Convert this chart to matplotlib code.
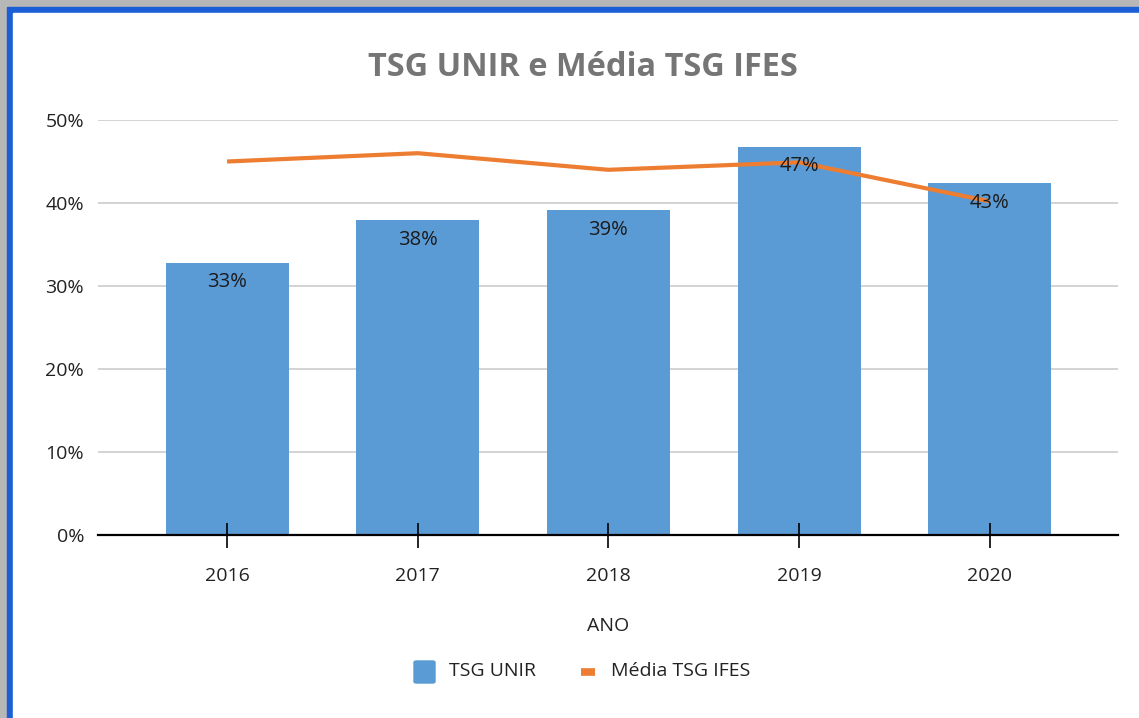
import matplotlib
matplotlib.use("Agg")
import matplotlib.pyplot as plt
from matplotlib.patches import Rectangle, FancyBboxPatch
from matplotlib.lines import Line2D
from matplotlib.ticker import FuncFormatter

anos = ["2016", "2017", "2018", "2019", "2020"]
tsg_unir = [0.328, 0.379, 0.391, 0.468, 0.424]
tsg_unir_labels = ["33%", "38%", "39%", "47%", "43%"]
media_ifes = [0.450, 0.460, 0.440, 0.449, 0.402]
yticks = [0.0, 0.1, 0.2, 0.3, 0.4, 0.5]

W, H = 1139, 718
fig = plt.figure(figsize=(W / 100, H / 100), dpi=100)
plt.rcParams['font.family'] = ['Open Sans', 'DejaVu Sans']

# gray screen background and blue frame
fig.patches.append(Rectangle((0, 0), 1, 1, transform=fig.transFigure, color="#b7b7b7", zorder=-10))
fig.patches.append(Rectangle((7 / W, -0.1), 1.2, (H - 7) / H + 0.1, transform=fig.transFigure,
                             color="#1a5fd6", zorder=-9))
fig.patches.append(Rectangle((13 / W, -0.1), 1.2, (H - 13) / H + 0.1, transform=fig.transFigure,
                             color="white", zorder=-8))

ax = fig.add_axes([98 / W, 1 - 535 / H, (1118 - 98) / W, (535 - 120) / H])
ax.set_facecolor("none")
x = list(range(len(anos)))
bar_w = 0.645
ax.hlines(yticks[1:], -0.677, 4.673, color="#d0d0d0", lw=1.3, zorder=0)
ax.bar(x, tsg_unir, width=bar_w, color="#5b9bd5", zorder=2)
ax.plot(x, media_ifes, color="#ed7d31", lw=3.0, zorder=3, solid_capstyle="butt")

for xi, v, lab in zip(x, tsg_unir, tsg_unir_labels):
    ax.annotate(lab, (xi, v), xytext=(0, -14), textcoords="offset points",
                ha="center", va="center", fontsize=14.5, color="#1b1b1b", zorder=4)

ax.set_xlim(-0.677, 4.673)
ax.set_ylim(0, 0.5)
ax.set_yticks(yticks)
ax.yaxis.set_major_formatter(FuncFormatter(lambda v, p: f"{v*100:.0f}%"))
ax.set_axisbelow(False)
for s in ["top", "right", "left"]:
    ax.spines[s].set_visible(False)
ax.spines["bottom"].set_color("black")
ax.spines["bottom"].set_linewidth(1.6)
ax.set_xticks(x)
ax.set_xticklabels(anos)
ax.tick_params(axis="x", direction="inout", length=18, width=1.2, color="black",
               labelsize=14, labelcolor="#222222", pad=14)
ax.tick_params(axis="y", length=0, labelsize=14, labelcolor="#222222", pad=10)

fig.text(583 / W, 1 - 67 / H, "TSG UNIR e Média TSG IFES", ha="center", va="center",
         fontsize=23.4, fontweight="bold", color="#757575")
fig.text(608 / W, 1 - 626 / H, "ANO", ha="center", va="center", fontsize=14, color="#222222")

# legend
fig.patches.append(FancyBboxPatch((414 / W, 1 - 683 / H), 21 / W, 22 / H, transform=fig.transFigure,
                                  boxstyle="round,pad=0,rounding_size=0.002", color="#5b9bd5"))
fig.text(449 / W, 1 - 671 / H, "TSG UNIR", ha="left", va="center", fontsize=14, color="#222222")
fig.lines.append(Line2D([581 / W, 595 / W], [1 - 671.5 / H] * 2, transform=fig.transFigure,
                        color="#ed7d31", lw=5.5, solid_capstyle="butt"))
fig.text(611 / W, 1 - 671 / H, "Média TSG IFES", ha="left", va="center", fontsize=14, color="#222222")

fig.savefig("out.png", dpi=100)
